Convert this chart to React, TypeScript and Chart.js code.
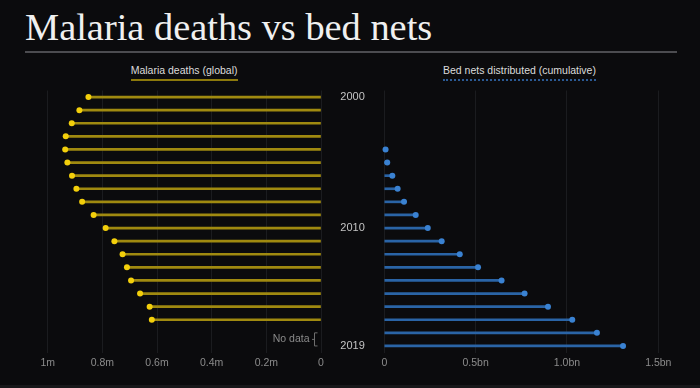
import React, { useEffect, useRef } from "react";
import { Chart, registerables } from "chart.js";

Chart.register(...registerables);

// ---- data ----
const years = ["2000","2001","2002","2003","2004","2005","2006","2007","2008","2009","2010","2011","2012","2013","2014","2015","2016","2017","2018","2019"];
// malaria deaths, millions (2018–2019: no data)
const deathsM = [0.851,0.884,0.912,0.934,0.936,0.928,0.911,0.895,0.874,0.832,0.788,0.756,0.726,0.710,0.695,0.662,0.627,0.619,null,null];
// bed nets distributed cumulative, billions
const netsBn = [null,null,null,null,0.007,0.016,0.044,0.073,0.108,0.172,0.238,0.314,0.413,0.513,0.642,0.768,0.896,1.029,1.164,1.307];
const deathsTicks = [0,0.2,0.4,0.6,0.8,1.0];
const deathsTickLabels = ["0","0.2m","0.4m","0.6m","0.8m","1m"];
const netsTicks = [0,0.5,1.0,1.5];
const netsTickLabels = ["0","0.5bn","1.0bn","1.5bn"];
const yearTickLabels = ["2000","2010","2019"];
const titleText = "Malaria deaths vs bed nets";
const deathsLabel = "Malaria deaths (global)";
const netsLabel = "Bed nets distributed (cumulative)";
const noDataLabel = "No data";

const SANS = "'Liberation Sans', Arial, sans-serif";
const GRID = "#1b1c1f";
const BG = "#0b0b0d";

const tickFont = { family: SANS, size: 10.5 };

function labelFor(ticks: number[], labels: string[], v: number) {
  const i = ticks.findIndex((t) => Math.abs(t - v) < 1e-6);
  return i >= 0 ? labels[i] : "";
}

const noDataPlugin = {
  id: "noData",
  afterDraw(chart: any) {
    const ys = chart.scales.y;
    const xs = chart.scales.x;
    const y1 = ys.getPixelForValue(18);
    const y2 = ys.getPixelForValue(19);
    const x0 = xs.getPixelForValue(0);
    const ctx = chart.ctx;
    ctx.save();
    ctx.strokeStyle = "#6e6e6e";
    ctx.lineWidth = 1;
    const bx = x0 - 6.5;
    ctx.beginPath();
    ctx.moveTo(bx + 3, y1);
    ctx.lineTo(bx, y1);
    ctx.lineTo(bx, y2);
    ctx.lineTo(bx + 3, y2);
    ctx.moveTo(bx, (y1 + y2) / 2);
    ctx.lineTo(bx - 2.5, (y1 + y2) / 2);
    ctx.stroke();
    ctx.fillStyle = "#8a8a8a";
    ctx.font = `10.5px ${SANS}`;
    ctx.textAlign = "right";
    ctx.textBaseline = "middle";
    ctx.fillText(noDataLabel, bx - 5, (y1 + y2) / 2);
    ctx.restore();
  },
};

function useChart(ref: React.RefObject<HTMLCanvasElement>, make: (c: HTMLCanvasElement) => Chart) {
  useEffect(() => {
    if (!ref.current) return;
    const ch = make(ref.current);
    return () => ch.destroy();
  }, []);
}

export default function App() {
  const leftRef = useRef<HTMLCanvasElement>(null);
  const rightRef = useRef<HTMLCanvasElement>(null);

  useChart(leftRef, (c) =>
    new Chart(c, {
      type: "bar",
      data: {
        labels: years,
        datasets: [
          {
            type: "line",
            data: deathsM,
            showLine: false,
            pointRadius: 3,
            pointBackgroundColor: "#f3cf0b",
            pointBorderWidth: 0,
            borderColor: "#f3cf0b",
            clip: false,
          } as any,
          {
            type: "bar",
            data: deathsM,
            backgroundColor: "#a08a10",
            barThickness: 2,
            clip: false,
          } as any,
        ],
      },
      options: {
        indexAxis: "y",
        animation: false,
        responsive: false,
        maintainAspectRatio: false,
        layout: { padding: { left: 47.7, right: 379, top: 90.5, bottom: 15.5 } },
        plugins: { legend: { display: false }, tooltip: { enabled: false } },
        scales: {
          x: {
            type: "linear",
            reverse: true,
            min: 0,
            max: 1,
            afterBuildTicks: (s: any) => {
              s.ticks = deathsTicks.map((v) => ({ value: v }));
            },
            afterFit: (s: any) => {
              s.height = 20;
            },
            grid: { color: GRID, drawTicks: false, lineWidth: 1 },
            border: { display: false },
            ticks: {
              color: "#8c8c8c",
              font: tickFont,
              padding: 4.5,
              maxRotation: 0,
              autoSkip: false,
              callback: (v: any) => labelFor(deathsTicks, deathsTickLabels, Number(v)),
            },
          },
          y: {
            type: "category",
            display: false,
            offset: true,
          },
        },
      },
      plugins: [noDataPlugin],
    } as any)
  );

  useChart(rightRef, (c) =>
    new Chart(c, {
      type: "bar",
      data: {
        labels: years,
        datasets: [
          {
            type: "line",
            data: netsBn,
            showLine: false,
            pointRadius: 3,
            pointBackgroundColor: "#3a82d2",
            pointBorderWidth: 0,
            borderColor: "#3a82d2",
            clip: false,
          } as any,
          {
            type: "bar",
            data: netsBn,
            backgroundColor: "#2a64a6",
            barThickness: 2,
            clip: false,
          } as any,
        ],
      },
      options: {
        indexAxis: "y",
        animation: false,
        responsive: false,
        maintainAspectRatio: false,
        layout: { padding: { left: 330.3, right: 41.7, top: 90.5, bottom: 15.5 } },
        plugins: { legend: { display: false }, tooltip: { enabled: false } },
        scales: {
          x: {
            type: "linear",
            min: 0,
            max: 1.5,
            afterBuildTicks: (s: any) => {
              s.ticks = netsTicks.map((v) => ({ value: v }));
            },
            afterFit: (s: any) => {
              s.height = 20;
            },
            grid: { color: GRID, drawTicks: false, lineWidth: 1 },
            border: { display: false },
            ticks: {
              color: "#8c8c8c",
              font: tickFont,
              padding: 4.5,
              maxRotation: 0,
              autoSkip: false,
              callback: (v: any) => labelFor(netsTicks, netsTickLabels, Number(v)),
            },
          },
          y: {
            type: "category",
            offset: true,
            afterFit: (s: any) => {
              s.width = 54;
            },
            grid: { display: false, drawTicks: false },
            border: { display: false },
            ticks: {
              autoSkip: false,
              color: "#c4c4c4",
              font: { family: SANS, size: 11 },
              padding: 19.5,
              callback: (_v: any, i: number) =>
                yearTickLabels.includes(years[i]) ? years[i] : "",
            },
          },
        },
      },
    } as any)
  );

  const abs: React.CSSProperties = { position: "absolute" };
  return (
    <div
      style={{
        position: "fixed",
        left: 0,
        top: 0,
        width: 700,
        height: 388,
        background: BG,
        overflow: "hidden",
      }}
    >
      <div
        style={{
          ...abs,
          left: 25,
          top: 8,
          fontFamily: "'Liberation Serif', serif",
          fontSize: 38.4,
          lineHeight: "38px",
          color: "#f0f0f0",
          whiteSpace: "nowrap",
        }}
      >
        {titleText}
      </div>
      <div style={{ ...abs, left: 25, top: 50.7, width: 651.7, height: 2, background: "#4c4c50" }} />
      <div
        style={{
          ...abs,
          left: 130.7,
          top: 64,
          fontFamily: SANS,
          fontSize: 10.5,
          lineHeight: "12px",
          color: "#dcdcdc",
          whiteSpace: "nowrap",
          paddingBottom: 2.5,
          borderBottom: "2px solid #8c790c",
        }}
      >
        {deathsLabel}
      </div>
      <div
        style={{
          ...abs,
          left: 443,
          top: 64,
          fontFamily: SANS,
          fontSize: 10.5,
          lineHeight: "12px",
          color: "#dcdcdc",
          whiteSpace: "nowrap",
          paddingBottom: 2.5,
          borderBottom: "2px dotted #2b5a94",
        }}
      >
        {netsLabel}
      </div>
      <canvas ref={leftRef} width={700} height={388} style={{ ...abs, left: 0, top: 0 }} />
      <canvas ref={rightRef} width={700} height={388} style={{ ...abs, left: 0, top: 0 }} />
      <div style={{ ...abs, left: 0, top: 385, width: 700, height: 3, background: "#18181a" }} />
    </div>
  );
}
